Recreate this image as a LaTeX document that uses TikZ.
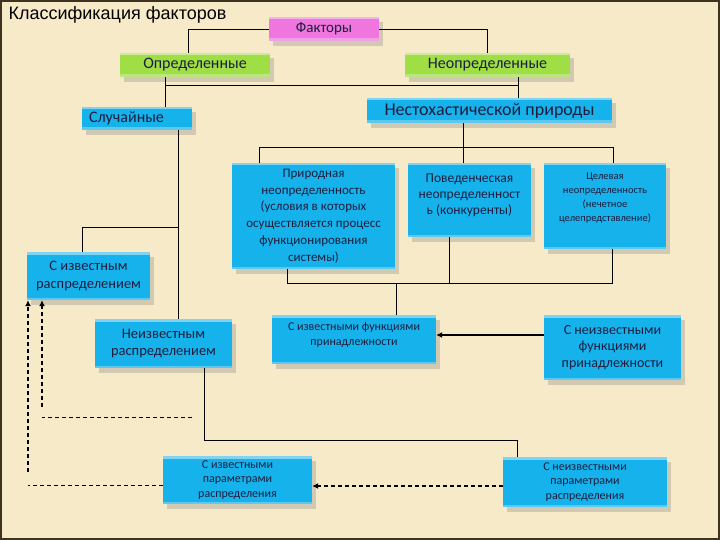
\documentclass[tikz,border=0pt]{standalone}
\usepackage{fontspec}
\setmainfont{Carlito}
\newfontfamily\titlefont{Liberation Sans}
\usetikzlibrary{arrows.meta,shadows}

\definecolor{slidebg}{RGB}{246,234,200}
\definecolor{slideframe}{RGB}{60,52,30}
\definecolor{boxblue}{RGB}{22,178,236}
\definecolor{boxgreen}{RGB}{160,222,70}
\definecolor{boxpink}{RGB}{238,118,222}
\definecolor{boxtext}{RGB}{28,30,62}

\begin{document}
\begin{tikzpicture}[x=1pt,y=-1pt,>=Latex]
  \tikzstyle{block}=[fill=boxblue,text=boxtext,align=center,inner sep=2pt,
    drop shadow={shadow xshift=4pt,shadow yshift=-5pt,opacity=0.3},
    path picture={
      \fill[white,opacity=0.45] (path picture bounding box.north west) rectangle ([yshift=-2.5pt]path picture bounding box.north east);
      \fill[white,opacity=0.3] (path picture bounding box.south west) rectangle ([yshift=2.5pt]path picture bounding box.south east);}]
  \tikzstyle{link}=[draw,line width=0.9pt]
  \tikzstyle{dashline}=[draw,line width=0.9pt,dash pattern=on 4pt off 3pt]
  \tikzstyle{dasharrow}=[draw,line width=2pt,dash pattern=on 4pt off 3pt,-{Latex[length=6pt,width=6pt]}]

  % slide
  \fill[slidebg] (0,0) rectangle (720,540);
  \draw[slideframe,line width=2pt] (1,1) rectangle (719,539);
  \useasboundingbox (0,0) rectangle (720,540);

  \node[anchor=west,font=\titlefont\fontsize{18}{21}\selectfont] (title) at (5,15) {Классификация факторов};

  % Top levels
  \node[block,fill=boxpink,minimum width=110pt,minimum height=24pt,font=\fontsize{15}{17}\selectfont] (factors) at (324,29) {Факторы};
  \node[block,fill=boxgreen,minimum width=150pt,minimum height=24pt,font=\fontsize{16}{18}\selectfont] (determ) at (195,65) {Определенные};
  \node[block,fill=boxgreen,minimum width=165pt,minimum height=24pt,font=\fontsize{16}{18}\selectfont] (undeterm) at (487.5,65) {Неопределенные};
  \node[block,minimum width=245pt,minimum height=25pt,font=\fontsize{18}{20}\selectfont] (nonstoch) at (489.5,110.5) {Нестохастической природы};
  \node[block,minimum width=110pt,minimum height=23pt,text width=96pt,align=left,font=\fontsize{16}{18}\selectfont] (random) at (137,118.5) {Случайные};

  % Uncertainty column
  \node[block,minimum width=163pt,minimum height=106pt,font=\fontsize{13}{16.7}\selectfont] (natural) at (313.5,216) {Природная\\неопределенность\\(условия в которых\\осуществляется процесс\\функционирования\\системы)};
  \node[block,minimum width=123pt,minimum height=74pt,text depth=11pt,font=\fontsize{13.5}{16}\selectfont] (behav) at (469.5,200) {Поведенческая\\неопределенност\\ь (конкуренты)};
  \node[block,minimum width=122pt,minimum height=86pt,text depth=17pt,font=\fontsize{10.5}{14}\selectfont] (target) at (605,206) {Целевая\\неопределенность\\(нечетное\\целепредставление)};

  % Lower blocks
  \node[block,minimum width=123pt,minimum height=48pt,font=\fontsize{14.5}{18}\selectfont] (kdist) at (88.5,276) {С известным\\распределением};
  \node[block,minimum width=137pt,minimum height=49pt,font=\fontsize{14.5}{17}\selectfont] (udist) at (163.5,343.5) {Неизвестным\\распределением};
  \node[block,minimum width=164pt,minimum height=49pt,text depth=11pt,font=\fontsize{12}{15}\selectfont] (kfunc) at (354,339.5) {С известными функциями\\принадлежности};
  \node[block,minimum width=137pt,minimum height=65pt,font=\fontsize{14}{16.7}\selectfont] (ufunc) at (612.5,347.5) {С неизвестными\\функциями\\принадлежности};
  \node[block,minimum width=149pt,minimum height=48pt,font=\fontsize{12}{14.7}\selectfont] (kparams) at (237.5,480) {С известными\\параметрами\\распределения};
  \node[block,minimum width=164pt,minimum height=50pt,font=\fontsize{12}{14.5}\selectfont] (uparams) at (585,482) {С неизвестными\\параметрами\\распределения};

  % Branch points
  \coordinate (split1) at (165,85);
  \coordinate (split2) at (518,85);
  \coordinate (bus1l) at (259,147);
  \coordinate (bus1m) at (463,147);
  \coordinate (bus1r) at (613,147);
  \coordinate (bus2l) at (287,283);
  \coordinate (bus2k) at (396,283);
  \coordinate (bus2m) at (449,283);
  \coordinate (bus2r) at (612,283);
  \coordinate (rnd1) at (178,227);
  \coordinate (rnd2) at (82,227);
  \coordinate (par1) at (204,440);
  \coordinate (par2) at (517,440);

  % Tree lines
  \draw[link] (factors.west) -| ([xshift=-7pt]determ.north);
  \draw[link] (factors.east) -| (undeterm.north);
  \draw[link] (determ.south -| split1) -- (random.north -| split1);
  \draw[link] (split1) -- (split2);
  \draw[link] (undeterm.south -| split2) -- (nonstoch.north -| split2);
  \draw[link] (nonstoch.south -| bus1m) -- (behav.north -| bus1m);
  \draw[link] (natural.north -| bus1l) -- (bus1l) -- (bus1r) -- (target.north -| bus1r);
  \draw[link] (natural.south -| bus2l) -- (bus2l) -- (bus2r) -- (target.south -| bus2r);
  \draw[link] (behav.south -| bus2m) -- (bus2m);
  \draw[link] (bus2k) -- (kfunc.north -| bus2k);
  \draw[link] (random.south -| rnd1) -- (udist.north -| rnd1);
  \draw[link] (rnd1) -- (rnd2) -- (kdist.north -| rnd2);
  \draw[link] (udist.south -| par1) -- (par1) -- (par2) -- (uparams.north -| par2);

  % Arrows
  \coordinate (funcarrow) at (0,335);
  \draw[line width=2pt,-{Latex[length=6pt,width=6pt]}] (ufunc.west |- funcarrow) -- (kfunc.east |- funcarrow);
  \coordinate (pararrow) at (0,486);
  \draw[dasharrow] (uparams.west |- pararrow) -- (kparams.east |- pararrow);

  % Dashed returns
  \coordinate (back1) at (28,485);
  \coordinate (back1v) at (28,472);
  \coordinate (back2) at (192,417);
  \coordinate (back2c) at (42,417);
  \coordinate (back2v) at (42,407);
  \draw[dashline] (kparams.west |- back1) -- (back1);
  \draw[dasharrow] (back1v) -- (kdist.south -| back1v);
  \draw[dashline] (back2) -- (back2c);
  \draw[dasharrow] (back2v) -- (kdist.south -| back2v);

\end{tikzpicture}
\end{document}
